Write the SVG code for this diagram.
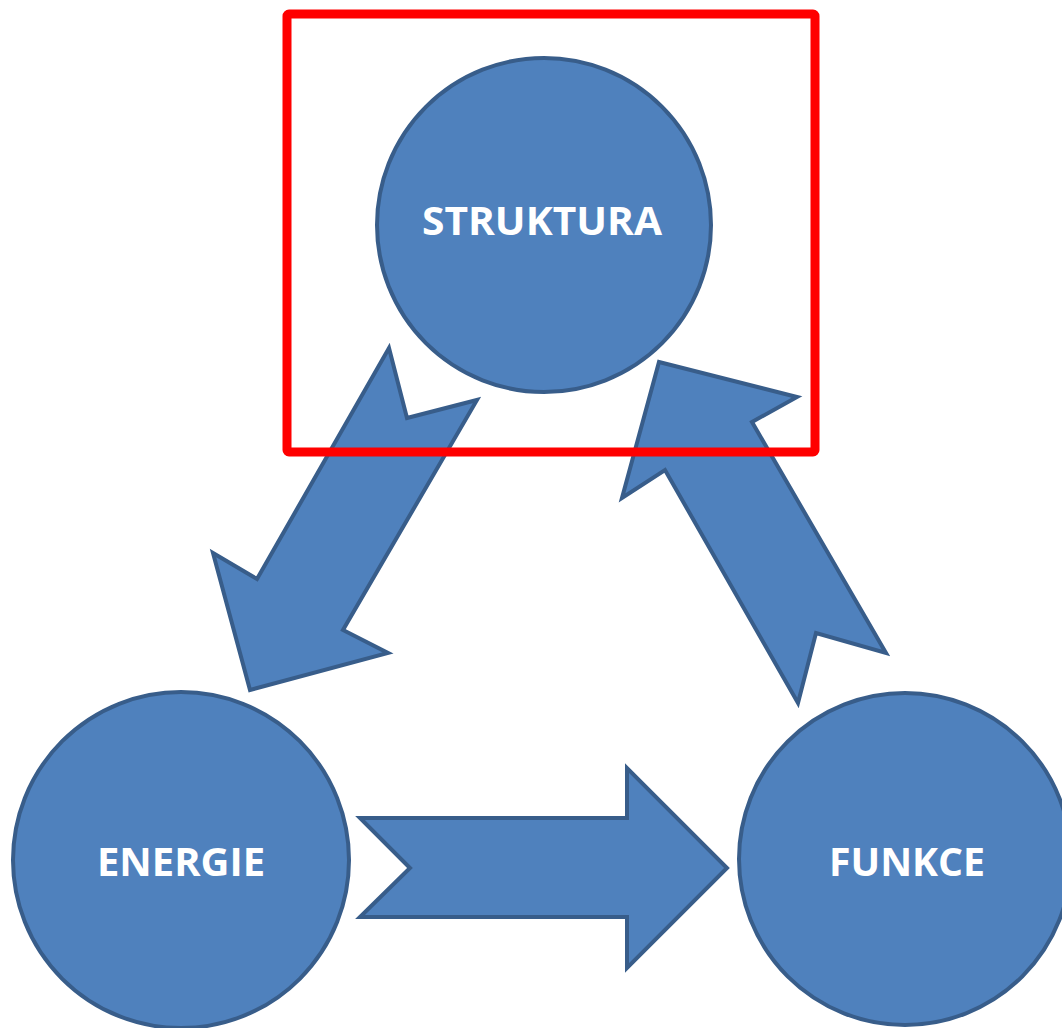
<svg xmlns="http://www.w3.org/2000/svg" width="1062" height="1028" viewBox="0 0 1062 1028">
<style>
.shape{fill:#4F81BD;stroke:#385D8A;stroke-width:4;stroke-linejoin:miter}
.lbl{font-family:"Open Sans","Liberation Sans",sans-serif;font-weight:bold;font-size:40px;fill:#FFFFFF;text-anchor:middle}
.hl{fill:none;stroke:#FF0000;stroke-width:9;stroke-linejoin:round}
</style>
<rect width="1062" height="1028" fill="#FFFFFF"/>
<g id="node-struktura">
<circle class="shape" cx="544" cy="225" r="167"/>
<text class="lbl" x="542" y="235" textLength="240" lengthAdjust="spacingAndGlyphs">STRUKTURA</text>
</g>
<g id="node-energie">
<circle class="shape" cx="181" cy="860" r="168"/>
<text class="lbl" x="181" y="876" textLength="168" lengthAdjust="spacingAndGlyphs">ENERGIE</text>
</g>
<g id="node-funkce">
<circle class="shape" cx="905" cy="859" r="166"/>
<text class="lbl" x="907" y="876" textLength="156" lengthAdjust="spacingAndGlyphs">FUNKCE</text>
</g>
<g id="connectors">
<polygon class="shape" points="389,348 407,418 477,400 343,630 388,653 250,690 213,553 257,579"/>
<polygon class="shape" points="659,362 797,397 752,422 886,653 816,633 798,703 665,470 622,498"/>
<polygon class="shape" points="360,818 627,818 627,768 727,868 627,968 627,917 360,917 410,868"/>
</g>
<g id="highlight">
<rect class="hl" x="287" y="14" width="528" height="438" rx="2"/>
</g>
</svg>
